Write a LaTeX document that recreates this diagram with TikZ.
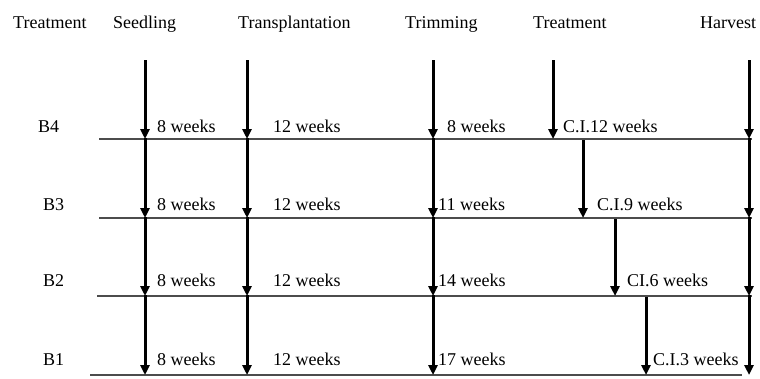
\documentclass[tikz,border=0pt]{standalone}
\usepackage{fontspec}
\setmainfont{Liberation Serif}
\usetikzlibrary{arrows.meta}
\begin{document}
\begin{tikzpicture}[x=1pt,y=-1pt,
  txt/.style={font=\fontsize{18}{18}\selectfont, inner sep=0pt, anchor=base west},
  arr/.style={line width=3pt, -{Triangle[width=9pt,length=10pt]}},
  tline/.style={line width=2pt, draw=black!70}]
\useasboundingbox (0,0) rectangle (760,378);
% headers
\node[txt] (h0) at (13,28) {Treatment};
\node[txt] (h1) at (113,28) {Seedling};
\node[txt] (h2) at (238,28) {Transplantation};
\node[txt] (h3) at (405,28) {Trimming};
\node[txt] (h4) at (533,28) {Treatment};
\node[txt] (h5) at (700,28) {Harvest};
% row labels
\node[txt] (b4) at (38,132) {B4};
\node[txt] (b3) at (43,210) {B3};
\node[txt] (b2) at (43,286) {B2};
\node[txt] (b1) at (43,365) {B1};
% timeline coordinates
\coordinate (L4a) at (99,139);  \coordinate (L4b) at (752,139);
\coordinate (L3a) at (99,218);  \coordinate (L3b) at (752,218);
\coordinate (L2a) at (97,296);  \coordinate (L2b) at (752,296);
\coordinate (L1a) at (90,375);  \coordinate (L1b) at (742,375);
\draw[tline] (L4a) -- (L4b);
\draw[tline] (L3a) -- (L3b);
\draw[tline] (L2a) -- (L2b);
\draw[tline] (L1a) -- (L1b);
% arrow coordinates
\foreach \n/\x in {s/145,p/247,m/433,h/749}{
  \coordinate (\n0) at (\x,60);
  \coordinate (\n4) at (\x,139);
  \coordinate (\n3) at (\x,218);
  \coordinate (\n2) at (\x,296);
  \coordinate (\n1) at (\x,375);
}
\coordinate (t4s) at (553,60);  \coordinate (t4e) at (553,139);
\coordinate (t3s) at (583,140); \coordinate (t3e) at (583,218);
\coordinate (t2s) at (615,219); \coordinate (t2e) at (615,296);
\coordinate (t1s) at (646,297); \coordinate (t1e) at (646,375);
\foreach \n in {s,p,m,h}{
  \draw[arr] (\n0) -- (\n4);
  \draw[arr] ([yshift=1pt]\n4) -- (\n3);
  \draw[arr] ([yshift=1pt]\n3) -- (\n2);
  \draw[arr] ([yshift=1pt]\n2) -- (\n1);
}
\draw[arr] (t4s) -- (t4e);
\draw[arr] (t3s) -- (t3e);
\draw[arr] (t2s) -- (t2e);
\draw[arr] (t1s) -- (t1e);
% week labels
\node[txt] (w41) at (157,132) {8 weeks};
\node[txt] (w42) at (273,132) {12 weeks};
\node[txt] (w43) at (447,132) {8 weeks};
\node[txt] (w44) at (563,132) {C.I.12 weeks};
\node[txt] (w31) at (157,210) {8 weeks};
\node[txt] (w32) at (273,210) {12 weeks};
\node[txt] (w33) at (438,210) {11 weeks};
\node[txt] (w34) at (597,210) {C.I.9 weeks};
\node[txt] (w21) at (157,286) {8 weeks};
\node[txt] (w22) at (273,286) {12 weeks};
\node[txt] (w23) at (438,286) {14 weeks};
\node[txt] (w24) at (627,286) {CI.6 weeks};
\node[txt] (w11) at (157,365) {8 weeks};
\node[txt] (w12) at (273,365) {12 weeks};
\node[txt] (w13) at (438,365) {17 weeks};
\node[txt] (w14) at (653,365) {C.I.3 weeks};
\end{tikzpicture}
\end{document}
